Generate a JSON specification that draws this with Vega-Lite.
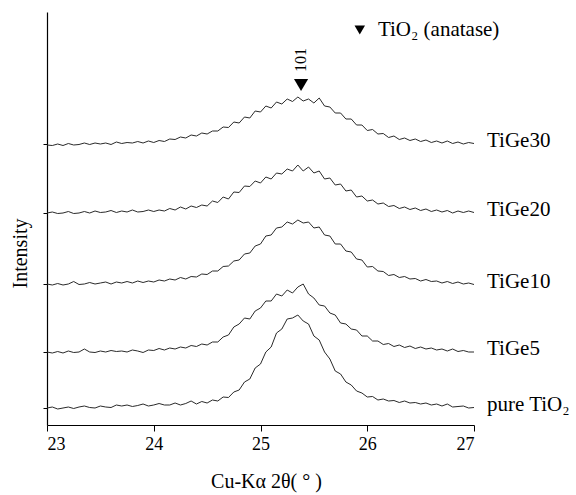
{
"$schema": "https://vega.github.io/schema/vega-lite/v6.json",
"width": 427, "height": 413,
"autosize": {"type": "none"},
"padding": {"left": 47, "top": 12, "right": 102, "bottom": 70},
"background": "white",
"config": {"view": {"stroke": null}, "font": "Liberation Serif"},
"datasets": {
"xrd": [
{"s":"pure TiO₂","t":23.00,"i":17},{"s":"pure TiO₂","t":23.05,"i":18},{"s":"pure TiO₂","t":23.10,"i":16},{"s":"pure TiO₂","t":23.15,"i":17},{"s":"pure TiO₂","t":23.20,"i":18},{"s":"pure TiO₂","t":23.25,"i":16.5},{"s":"pure TiO₂","t":23.30,"i":18},{"s":"pure TiO₂","t":23.35,"i":19},{"s":"pure TiO₂","t":23.40,"i":17.5},{"s":"pure TiO₂","t":23.45,"i":17},{"s":"pure TiO₂","t":23.50,"i":19},{"s":"pure TiO₂","t":23.55,"i":18},{"s":"pure TiO₂","t":23.60,"i":17.5},{"s":"pure TiO₂","t":23.65,"i":20},{"s":"pure TiO₂","t":23.70,"i":19},{"s":"pure TiO₂","t":23.75,"i":20},{"s":"pure TiO₂","t":23.80,"i":18.5},{"s":"pure TiO₂","t":23.85,"i":19.5},{"s":"pure TiO₂","t":23.90,"i":21},{"s":"pure TiO₂","t":23.95,"i":19},{"s":"pure TiO₂","t":24.00,"i":20},{"s":"pure TiO₂","t":24.05,"i":21.5},{"s":"pure TiO₂","t":24.10,"i":20},{"s":"pure TiO₂","t":24.15,"i":20},{"s":"pure TiO₂","t":24.20,"i":22},{"s":"pure TiO₂","t":24.25,"i":20},{"s":"pure TiO₂","t":24.30,"i":21.5},{"s":"pure TiO₂","t":24.35,"i":24},{"s":"pure TiO₂","t":24.40,"i":21},{"s":"pure TiO₂","t":24.45,"i":23.5},{"s":"pure TiO₂","t":24.50,"i":22},{"s":"pure TiO₂","t":24.55,"i":25},{"s":"pure TiO₂","t":24.60,"i":24},{"s":"pure TiO₂","t":24.65,"i":28},{"s":"pure TiO₂","t":24.70,"i":27.5},{"s":"pure TiO₂","t":24.75,"i":33},{"s":"pure TiO₂","t":24.80,"i":35},{"s":"pure TiO₂","t":24.85,"i":43},{"s":"pure TiO₂","t":24.90,"i":46},{"s":"pure TiO₂","t":24.95,"i":57},{"s":"pure TiO₂","t":25.00,"i":61},{"s":"pure TiO₂","t":25.05,"i":73},{"s":"pure TiO₂","t":25.10,"i":78},{"s":"pure TiO₂","t":25.15,"i":92},{"s":"pure TiO₂","t":25.20,"i":96},{"s":"pure TiO₂","t":25.25,"i":106},{"s":"pure TiO₂","t":25.30,"i":107},{"s":"pure TiO₂","t":25.35,"i":110},{"s":"pure TiO₂","t":25.40,"i":104},{"s":"pure TiO₂","t":25.45,"i":101},{"s":"pure TiO₂","t":25.50,"i":89},{"s":"pure TiO₂","t":25.55,"i":85},{"s":"pure TiO₂","t":25.60,"i":73},{"s":"pure TiO₂","t":25.65,"i":66},{"s":"pure TiO₂","t":25.70,"i":54},{"s":"pure TiO₂","t":25.75,"i":51},{"s":"pure TiO₂","t":25.80,"i":43},{"s":"pure TiO₂","t":25.85,"i":40},{"s":"pure TiO₂","t":25.90,"i":34},{"s":"pure TiO₂","t":25.95,"i":32},{"s":"pure TiO₂","t":26.00,"i":28},{"s":"pure TiO₂","t":26.05,"i":28.5},{"s":"pure TiO₂","t":26.10,"i":25},{"s":"pure TiO₂","t":26.15,"i":26},{"s":"pure TiO₂","t":26.20,"i":24},{"s":"pure TiO₂","t":26.25,"i":24.5},{"s":"pure TiO₂","t":26.30,"i":22.5},{"s":"pure TiO₂","t":26.35,"i":24},{"s":"pure TiO₂","t":26.40,"i":22},{"s":"pure TiO₂","t":26.45,"i":22.5},{"s":"pure TiO₂","t":26.50,"i":21},{"s":"pure TiO₂","t":26.55,"i":22},{"s":"pure TiO₂","t":26.60,"i":20},{"s":"pure TiO₂","t":26.65,"i":21},{"s":"pure TiO₂","t":26.70,"i":19},{"s":"pure TiO₂","t":26.75,"i":21},{"s":"pure TiO₂","t":26.80,"i":18},{"s":"pure TiO₂","t":26.85,"i":18.5},{"s":"pure TiO₂","t":26.90,"i":19},{"s":"pure TiO₂","t":26.95,"i":17},{"s":"pure TiO₂","t":27.00,"i":17.5},
{"s":"TiGe5","t":23.00,"i":73},{"s":"TiGe5","t":23.05,"i":72},{"s":"TiGe5","t":23.10,"i":73.5},{"s":"TiGe5","t":23.15,"i":72},{"s":"TiGe5","t":23.20,"i":74},{"s":"TiGe5","t":23.25,"i":72.5},{"s":"TiGe5","t":23.30,"i":73},{"s":"TiGe5","t":23.35,"i":76},{"s":"TiGe5","t":23.40,"i":73},{"s":"TiGe5","t":23.45,"i":72.5},{"s":"TiGe5","t":23.50,"i":74},{"s":"TiGe5","t":23.55,"i":73},{"s":"TiGe5","t":23.60,"i":74.5},{"s":"TiGe5","t":23.65,"i":73.5},{"s":"TiGe5","t":23.70,"i":74},{"s":"TiGe5","t":23.75,"i":73},{"s":"TiGe5","t":23.80,"i":75},{"s":"TiGe5","t":23.85,"i":74},{"s":"TiGe5","t":23.90,"i":72.5},{"s":"TiGe5","t":23.95,"i":75},{"s":"TiGe5","t":24.00,"i":74.5},{"s":"TiGe5","t":24.05,"i":76.5},{"s":"TiGe5","t":24.10,"i":75},{"s":"TiGe5","t":24.15,"i":77},{"s":"TiGe5","t":24.20,"i":76},{"s":"TiGe5","t":24.25,"i":78},{"s":"TiGe5","t":24.30,"i":77},{"s":"TiGe5","t":24.35,"i":79.5},{"s":"TiGe5","t":24.40,"i":78.5},{"s":"TiGe5","t":24.45,"i":81},{"s":"TiGe5","t":24.50,"i":80},{"s":"TiGe5","t":24.55,"i":83},{"s":"TiGe5","t":24.60,"i":83},{"s":"TiGe5","t":24.65,"i":88},{"s":"TiGe5","t":24.70,"i":90},{"s":"TiGe5","t":24.75,"i":98},{"s":"TiGe5","t":24.80,"i":101},{"s":"TiGe5","t":24.85,"i":107},{"s":"TiGe5","t":24.90,"i":106},{"s":"TiGe5","t":24.95,"i":114},{"s":"TiGe5","t":25.00,"i":117},{"s":"TiGe5","t":25.05,"i":124},{"s":"TiGe5","t":25.10,"i":124},{"s":"TiGe5","t":25.15,"i":131},{"s":"TiGe5","t":25.20,"i":129},{"s":"TiGe5","t":25.25,"i":135},{"s":"TiGe5","t":25.30,"i":132},{"s":"TiGe5","t":25.35,"i":138},{"s":"TiGe5","t":25.40,"i":141},{"s":"TiGe5","t":25.45,"i":131},{"s":"TiGe5","t":25.50,"i":127},{"s":"TiGe5","t":25.55,"i":120},{"s":"TiGe5","t":25.60,"i":119},{"s":"TiGe5","t":25.65,"i":112},{"s":"TiGe5","t":25.70,"i":110},{"s":"TiGe5","t":25.75,"i":102},{"s":"TiGe5","t":25.80,"i":101},{"s":"TiGe5","t":25.85,"i":96},{"s":"TiGe5","t":25.90,"i":95},{"s":"TiGe5","t":25.95,"i":89},{"s":"TiGe5","t":26.00,"i":89},{"s":"TiGe5","t":26.05,"i":84},{"s":"TiGe5","t":26.10,"i":84},{"s":"TiGe5","t":26.15,"i":80.5},{"s":"TiGe5","t":26.20,"i":81.5},{"s":"TiGe5","t":26.25,"i":78.5},{"s":"TiGe5","t":26.30,"i":80},{"s":"TiGe5","t":26.35,"i":77.5},{"s":"TiGe5","t":26.40,"i":79},{"s":"TiGe5","t":26.45,"i":76.5},{"s":"TiGe5","t":26.50,"i":78},{"s":"TiGe5","t":26.55,"i":76},{"s":"TiGe5","t":26.60,"i":77},{"s":"TiGe5","t":26.65,"i":75},{"s":"TiGe5","t":26.70,"i":76},{"s":"TiGe5","t":26.75,"i":74},{"s":"TiGe5","t":26.80,"i":76},{"s":"TiGe5","t":26.85,"i":73.5},{"s":"TiGe5","t":26.90,"i":74.5},{"s":"TiGe5","t":26.95,"i":73},{"s":"TiGe5","t":27.00,"i":73},
{"s":"TiGe10","t":23.00,"i":141},{"s":"TiGe10","t":23.05,"i":140},{"s":"TiGe10","t":23.10,"i":141.5},{"s":"TiGe10","t":23.15,"i":140},{"s":"TiGe10","t":23.20,"i":141},{"s":"TiGe10","t":23.25,"i":143.5},{"s":"TiGe10","t":23.30,"i":140.5},{"s":"TiGe10","t":23.35,"i":141},{"s":"TiGe10","t":23.40,"i":142.5},{"s":"TiGe10","t":23.45,"i":141},{"s":"TiGe10","t":23.50,"i":142},{"s":"TiGe10","t":23.55,"i":143},{"s":"TiGe10","t":23.60,"i":141},{"s":"TiGe10","t":23.65,"i":143},{"s":"TiGe10","t":23.70,"i":142},{"s":"TiGe10","t":23.75,"i":143.5},{"s":"TiGe10","t":23.80,"i":142},{"s":"TiGe10","t":23.85,"i":144},{"s":"TiGe10","t":23.90,"i":142.5},{"s":"TiGe10","t":23.95,"i":144},{"s":"TiGe10","t":24.00,"i":143},{"s":"TiGe10","t":24.05,"i":145},{"s":"TiGe10","t":24.10,"i":144},{"s":"TiGe10","t":24.15,"i":146},{"s":"TiGe10","t":24.20,"i":145},{"s":"TiGe10","t":24.25,"i":147.5},{"s":"TiGe10","t":24.30,"i":146},{"s":"TiGe10","t":24.35,"i":148.5},{"s":"TiGe10","t":24.40,"i":148},{"s":"TiGe10","t":24.45,"i":151},{"s":"TiGe10","t":24.50,"i":150.5},{"s":"TiGe10","t":24.55,"i":154},{"s":"TiGe10","t":24.60,"i":154},{"s":"TiGe10","t":24.65,"i":158.5},{"s":"TiGe10","t":24.70,"i":159},{"s":"TiGe10","t":24.75,"i":164},{"s":"TiGe10","t":24.80,"i":165},{"s":"TiGe10","t":24.85,"i":171},{"s":"TiGe10","t":24.90,"i":172},{"s":"TiGe10","t":24.95,"i":179},{"s":"TiGe10","t":25.00,"i":181},{"s":"TiGe10","t":25.05,"i":189},{"s":"TiGe10","t":25.10,"i":190},{"s":"TiGe10","t":25.15,"i":197},{"s":"TiGe10","t":25.20,"i":198},{"s":"TiGe10","t":25.25,"i":203},{"s":"TiGe10","t":25.30,"i":201},{"s":"TiGe10","t":25.35,"i":205},{"s":"TiGe10","t":25.40,"i":202},{"s":"TiGe10","t":25.45,"i":203},{"s":"TiGe10","t":25.50,"i":197},{"s":"TiGe10","t":25.55,"i":198},{"s":"TiGe10","t":25.60,"i":190},{"s":"TiGe10","t":25.65,"i":189},{"s":"TiGe10","t":25.70,"i":181},{"s":"TiGe10","t":25.75,"i":181},{"s":"TiGe10","t":25.80,"i":174},{"s":"TiGe10","t":25.85,"i":173},{"s":"TiGe10","t":25.90,"i":166},{"s":"TiGe10","t":25.95,"i":165},{"s":"TiGe10","t":26.00,"i":158},{"s":"TiGe10","t":26.05,"i":158.5},{"s":"TiGe10","t":26.10,"i":154},{"s":"TiGe10","t":26.15,"i":153.5},{"s":"TiGe10","t":26.20,"i":149.5},{"s":"TiGe10","t":26.25,"i":150.5},{"s":"TiGe10","t":26.30,"i":147.5},{"s":"TiGe10","t":26.35,"i":148.5},{"s":"TiGe10","t":26.40,"i":146},{"s":"TiGe10","t":26.45,"i":146.5},{"s":"TiGe10","t":26.50,"i":144},{"s":"TiGe10","t":26.55,"i":145.5},{"s":"TiGe10","t":26.60,"i":143.5},{"s":"TiGe10","t":26.65,"i":144},{"s":"TiGe10","t":26.70,"i":142},{"s":"TiGe10","t":26.75,"i":143.5},{"s":"TiGe10","t":26.80,"i":141.5},{"s":"TiGe10","t":26.85,"i":143},{"s":"TiGe10","t":26.90,"i":141},{"s":"TiGe10","t":26.95,"i":142},{"s":"TiGe10","t":27.00,"i":140.5},
{"s":"TiGe20","t":23.00,"i":212},{"s":"TiGe20","t":23.05,"i":213},{"s":"TiGe20","t":23.10,"i":211.5},{"s":"TiGe20","t":23.15,"i":212},{"s":"TiGe20","t":23.20,"i":213.5},{"s":"TiGe20","t":23.25,"i":211.5},{"s":"TiGe20","t":23.30,"i":212},{"s":"TiGe20","t":23.35,"i":213.5},{"s":"TiGe20","t":23.40,"i":212},{"s":"TiGe20","t":23.45,"i":214},{"s":"TiGe20","t":23.50,"i":212.5},{"s":"TiGe20","t":23.55,"i":213},{"s":"TiGe20","t":23.60,"i":214.5},{"s":"TiGe20","t":23.65,"i":212.5},{"s":"TiGe20","t":23.70,"i":214},{"s":"TiGe20","t":23.75,"i":213},{"s":"TiGe20","t":23.80,"i":215},{"s":"TiGe20","t":23.85,"i":213},{"s":"TiGe20","t":23.90,"i":213.5},{"s":"TiGe20","t":23.95,"i":215},{"s":"TiGe20","t":24.00,"i":213.5},{"s":"TiGe20","t":24.05,"i":215},{"s":"TiGe20","t":24.10,"i":214},{"s":"TiGe20","t":24.15,"i":216.5},{"s":"TiGe20","t":24.20,"i":215},{"s":"TiGe20","t":24.25,"i":218},{"s":"TiGe20","t":24.30,"i":216},{"s":"TiGe20","t":24.35,"i":219},{"s":"TiGe20","t":24.40,"i":217.5},{"s":"TiGe20","t":24.45,"i":220},{"s":"TiGe20","t":24.50,"i":219},{"s":"TiGe20","t":24.55,"i":224},{"s":"TiGe20","t":24.60,"i":222.5},{"s":"TiGe20","t":24.65,"i":228},{"s":"TiGe20","t":24.70,"i":226},{"s":"TiGe20","t":24.75,"i":233},{"s":"TiGe20","t":24.80,"i":232.5},{"s":"TiGe20","t":24.85,"i":239},{"s":"TiGe20","t":24.90,"i":238.5},{"s":"TiGe20","t":24.95,"i":244},{"s":"TiGe20","t":25.00,"i":242},{"s":"TiGe20","t":25.05,"i":248},{"s":"TiGe20","t":25.10,"i":246},{"s":"TiGe20","t":25.15,"i":252},{"s":"TiGe20","t":25.20,"i":251},{"s":"TiGe20","t":25.25,"i":256},{"s":"TiGe20","t":25.30,"i":254},{"s":"TiGe20","t":25.35,"i":260},{"s":"TiGe20","t":25.40,"i":254},{"s":"TiGe20","t":25.45,"i":258},{"s":"TiGe20","t":25.50,"i":252},{"s":"TiGe20","t":25.55,"i":254},{"s":"TiGe20","t":25.60,"i":246},{"s":"TiGe20","t":25.65,"i":247},{"s":"TiGe20","t":25.70,"i":240},{"s":"TiGe20","t":25.75,"i":241},{"s":"TiGe20","t":25.80,"i":234},{"s":"TiGe20","t":25.85,"i":235},{"s":"TiGe20","t":25.90,"i":228},{"s":"TiGe20","t":25.95,"i":229},{"s":"TiGe20","t":26.00,"i":224},{"s":"TiGe20","t":26.05,"i":225},{"s":"TiGe20","t":26.10,"i":221},{"s":"TiGe20","t":26.15,"i":222},{"s":"TiGe20","t":26.20,"i":218.5},{"s":"TiGe20","t":26.25,"i":219.5},{"s":"TiGe20","t":26.30,"i":216.5},{"s":"TiGe20","t":26.35,"i":218},{"s":"TiGe20","t":26.40,"i":215.5},{"s":"TiGe20","t":26.45,"i":217},{"s":"TiGe20","t":26.50,"i":214.5},{"s":"TiGe20","t":26.55,"i":216},{"s":"TiGe20","t":26.60,"i":213.5},{"s":"TiGe20","t":26.65,"i":215},{"s":"TiGe20","t":26.70,"i":213},{"s":"TiGe20","t":26.75,"i":214.5},{"s":"TiGe20","t":26.80,"i":212},{"s":"TiGe20","t":26.85,"i":214},{"s":"TiGe20","t":26.90,"i":212.5},{"s":"TiGe20","t":26.95,"i":214},{"s":"TiGe20","t":27.00,"i":212.5},
{"s":"TiGe30","t":23.00,"i":280},{"s":"TiGe30","t":23.05,"i":279.5},{"s":"TiGe30","t":23.10,"i":281},{"s":"TiGe30","t":23.15,"i":279.5},{"s":"TiGe30","t":23.20,"i":281.5},{"s":"TiGe30","t":23.25,"i":280},{"s":"TiGe30","t":23.30,"i":280.5},{"s":"TiGe30","t":23.35,"i":282},{"s":"TiGe30","t":23.40,"i":280.5},{"s":"TiGe30","t":23.45,"i":282},{"s":"TiGe30","t":23.50,"i":281},{"s":"TiGe30","t":23.55,"i":282},{"s":"TiGe30","t":23.60,"i":280.5},{"s":"TiGe30","t":23.65,"i":283},{"s":"TiGe30","t":23.70,"i":281.5},{"s":"TiGe30","t":23.75,"i":282.5},{"s":"TiGe30","t":23.80,"i":282},{"s":"TiGe30","t":23.85,"i":283.5},{"s":"TiGe30","t":23.90,"i":282},{"s":"TiGe30","t":23.95,"i":284},{"s":"TiGe30","t":24.00,"i":282.5},{"s":"TiGe30","t":24.05,"i":284.5},{"s":"TiGe30","t":24.10,"i":283.5},{"s":"TiGe30","t":24.15,"i":286},{"s":"TiGe30","t":24.20,"i":285.5},{"s":"TiGe30","t":24.25,"i":288},{"s":"TiGe30","t":24.30,"i":287},{"s":"TiGe30","t":24.35,"i":290},{"s":"TiGe30","t":24.40,"i":289},{"s":"TiGe30","t":24.45,"i":292},{"s":"TiGe30","t":24.50,"i":291},{"s":"TiGe30","t":24.55,"i":294},{"s":"TiGe30","t":24.60,"i":294},{"s":"TiGe30","t":24.65,"i":298},{"s":"TiGe30","t":24.70,"i":297.5},{"s":"TiGe30","t":24.75,"i":303},{"s":"TiGe30","t":24.80,"i":302},{"s":"TiGe30","t":24.85,"i":308},{"s":"TiGe30","t":24.90,"i":307},{"s":"TiGe30","t":24.95,"i":314},{"s":"TiGe30","t":25.00,"i":313},{"s":"TiGe30","t":25.05,"i":319},{"s":"TiGe30","t":25.10,"i":317},{"s":"TiGe30","t":25.15,"i":323},{"s":"TiGe30","t":25.20,"i":321},{"s":"TiGe30","t":25.25,"i":326},{"s":"TiGe30","t":25.30,"i":323.5},{"s":"TiGe30","t":25.35,"i":328},{"s":"TiGe30","t":25.40,"i":324},{"s":"TiGe30","t":25.45,"i":326},{"s":"TiGe30","t":25.50,"i":322},{"s":"TiGe30","t":25.55,"i":327},{"s":"TiGe30","t":25.60,"i":319},{"s":"TiGe30","t":25.65,"i":318},{"s":"TiGe30","t":25.70,"i":312},{"s":"TiGe30","t":25.75,"i":312},{"s":"TiGe30","t":25.80,"i":306},{"s":"TiGe30","t":25.85,"i":306},{"s":"TiGe30","t":25.90,"i":300},{"s":"TiGe30","t":25.95,"i":300},{"s":"TiGe30","t":26.00,"i":294.5},{"s":"TiGe30","t":26.05,"i":295.5},{"s":"TiGe30","t":26.10,"i":291},{"s":"TiGe30","t":26.15,"i":291.5},{"s":"TiGe30","t":26.20,"i":287.5},{"s":"TiGe30","t":26.25,"i":289},{"s":"TiGe30","t":26.30,"i":285.5},{"s":"TiGe30","t":26.35,"i":287},{"s":"TiGe30","t":26.40,"i":284.5},{"s":"TiGe30","t":26.45,"i":286},{"s":"TiGe30","t":26.50,"i":283.5},{"s":"TiGe30","t":26.55,"i":285},{"s":"TiGe30","t":26.60,"i":282.5},{"s":"TiGe30","t":26.65,"i":284},{"s":"TiGe30","t":26.70,"i":282},{"s":"TiGe30","t":26.75,"i":284},{"s":"TiGe30","t":26.80,"i":281.5},{"s":"TiGe30","t":26.85,"i":283},{"s":"TiGe30","t":26.90,"i":281},{"s":"TiGe30","t":26.95,"i":282.5},{"s":"TiGe30","t":27.00,"i":281.5}
],
"peaks": [{"hkl": "101", "t": 25.38}],
"legend": [{"label": "TiO₂ (anatase)"}]
},
"layer": [
{
"data": {"name": "xrd"},
"mark": {"type": "line", "strokeWidth": 1, "color": "#2a2a2a", "interpolate": "linear"},
"encoding": {
"x": {"field": "t", "type": "quantitative", "scale": {"domain": [23, 27], "nice": false},
"axis": {"values": [23, 24, 25, 26, 27], "format": "d", "grid": false, "domainColor": "#000", "domainWidth": 1.2, "tickColor": "#000", "tickSize": 6, "labelFont": "Liberation Serif", "labelFontSize": 18, "labelColor": "#000", "labelPadding": 4,
"title": "Cu-Kα 2θ( ° )", "titleFont": "Liberation Serif", "titleFontSize": 20, "titleFontWeight": "normal", "titleColor": "#000", "titleX": 219, "titleY": 56, "titleBaseline": "middle", "titleAlign": "center"}},
"y": {"field": "i", "type": "quantitative", "scale": {"domain": [0, 413], "nice": false, "zero": false},
"axis": {"values": [17, 73, 141, 212, 281], "labels": false, "grid": false, "domainColor": "#000", "domainWidth": 1.2, "tickColor": "#000", "tickSize": 4,
"title": "Intensity", "titleFont": "Liberation Serif", "titleFontSize": 20, "titleFontWeight": "normal", "titleColor": "#000", "titleX": -27, "titleY": 241, "titleAngle": -90, "titleAlign": "center", "titleBaseline": "middle"}},
"detail": {"field": "s", "type": "nominal"}
}
},
{
"data": {"name": "xrd"},
"transform": [{"filter": "datum.t == 27"}],
"mark": {"type": "text", "align": "left", "baseline": "middle", "dx": 13, "dy": -3, "font": "Liberation Serif", "fontSize": 21, "color": "#000"},
"encoding": {
"x": {"field": "t", "type": "quantitative"},
"y": {"field": "i", "type": "quantitative"},
"text": {"field": "s", "type": "nominal"}
}
},
{
"data": {"name": "peaks"},
"mark": {"type": "point", "shape": "triangle-down", "filled": true, "size": 200, "color": "#000", "opacity": 1},
"encoding": {
"x": {"field": "t", "type": "quantitative"},
"y": {"datum": 340}
}
},
{
"data": {"name": "peaks"},
"mark": {"type": "text", "angle": 270, "align": "center", "baseline": "middle", "font": "Liberation Serif", "fontSize": 16, "color": "#000"},
"encoding": {
"x": {"field": "t", "type": "quantitative"},
"y": {"datum": 365},
"text": {"field": "hkl", "type": "nominal"}
}
},
{
"data": {"name": "legend"},
"mark": {"type": "point", "shape": "triangle-down", "filled": true, "size": 110, "color": "#000", "opacity": 1},
"encoding": {
"x": {"datum": 25.93},
"y": {"datum": 395}
}
},
{
"data": {"name": "legend"},
"mark": {"type": "text", "align": "left", "baseline": "middle", "font": "Liberation Serif", "fontSize": 21, "color": "#000"},
"encoding": {
"x": {"datum": 26.1},
"y": {"datum": 395},
"text": {"field": "label", "type": "nominal"}
}
}
]
}
